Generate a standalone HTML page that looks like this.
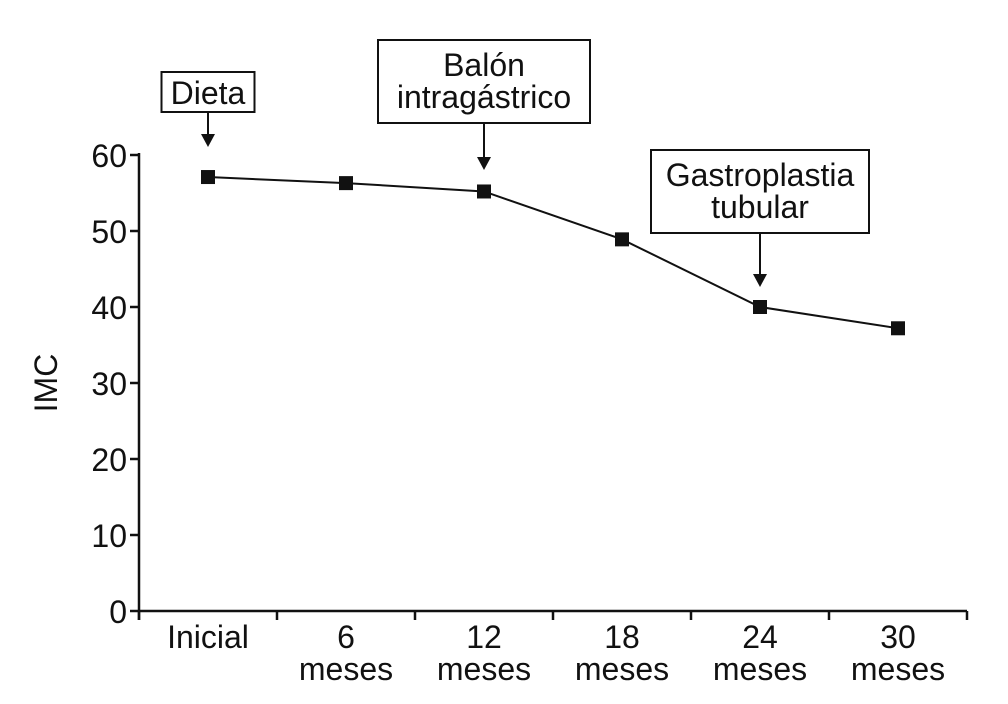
<!DOCTYPE html>
<html><head><meta charset="utf-8"><style>
body{margin:0;background:#fff}
svg{display:block;font-family:"Liberation Sans",sans-serif}
</style></head><body>
<svg id="c" width="1008" height="704"></svg>
<script>
const categories=[["Inicial"],["6","meses"],["12","meses"],["18","meses"],["24","meses"],["30","meses"]];
const imcValues=[57.1,56.3,55.2,48.9,40,37.2];
const yTicks=[0,10,20,30,40,50,60];
const notes=[{i:0,lines:["Dieta"]},{i:2,lines:["Balón","intragástrico"]},{i:4,lines:["Gastroplastia","tubular"]}];
const noteLayout=[{tip:147,bottom:112,w:93},{tip:170,bottom:123,w:212},{tip:287,bottom:233,w:218}];
const NS="http://www.w3.org/2000/svg";
const svg=document.getElementById('c');
const X0=139,X1=967,Y0=611,YS=7.6;
const step=(X1-X0)/categories.length;
const x=i=>X0+step*(i+0.5);
const y=v=>Y0-v*YS;
function mk(t,a,p){const e=document.createElementNS(NS,t);for(const k in a)e.setAttribute(k,a[k]);(p||svg).appendChild(e);return e;}
let e;
e=mk('line',{x1:X0,y1:y(60)-2,x2:X0,y2:Y0+9,stroke:'#111','stroke-width':2.5});


e=mk('line',{x1:X0-1,y1:Y0,x2:X1,y2:Y0,stroke:'#111','stroke-width':2.5});


yTicks.forEach(v=>{
 mk('line',{x1:X0-9,y1:y(v),x2:X0,y2:y(v),stroke:'#111','stroke-width':2.5});
 e=mk('text',{x:X0-12,y:y(v)+12,'text-anchor':'end','font-size':32,fill:'#111'});e.textContent=v;
 
 
});
for(let i=0;i<=categories.length;i++)mk('line',{x1:X0+step*i,y1:Y0,x2:X0+step*i,y2:Y0+9,stroke:'#111','stroke-width':2.5});
categories.forEach((c,i)=>{c.forEach((s,j)=>{e=mk('text',{x:x(i),y:648+j*32,'text-anchor':'middle','font-size':32,fill:'#111'});e.textContent=s;
 
 });});
e=mk('text',{x:0,y:0,transform:'translate(57 383) rotate(-90)','text-anchor':'middle','font-size':32,fill:'#111'});e.textContent='IMC';


e=mk('polyline',{points:imcValues.map((v,i)=>x(i)+','+y(v)).join(' '),fill:'none',stroke:'#111','stroke-width':2});


imcValues.forEach((v,i)=>{e=mk('rect',{x:x(i)-7,y:y(v)-7,width:14,height:14,fill:'#111'});
 
 });
notes.forEach((n,k)=>{
 const L=noteLayout[k];
 const cx=x(n.i),tip=L.tip;
 const h=n.lines.length===1?40:83;
 const w=L.w;
 const by=L.bottom-h;
 const g=mk('g',{});
 
 
 mk('rect',{x:cx-w/2,y:by,width:w,height:h,fill:'#fff',stroke:'#111','stroke-width':2},g);
 n.lines.forEach((s,j)=>{const t=mk('text',{x:cx,y:by+(h===40?32:36)+j*32,'text-anchor':'middle','font-size':32,fill:'#111'},g);t.textContent=s;});
 mk('line',{x1:cx,y1:L.bottom,x2:cx,y2:tip-10,stroke:'#111','stroke-width':2},g);
 mk('polygon',{points:`${cx-7},${tip-13} ${cx+7},${tip-13} ${cx},${tip}`,fill:'#111'},g);
});
</script>
</body></html>
